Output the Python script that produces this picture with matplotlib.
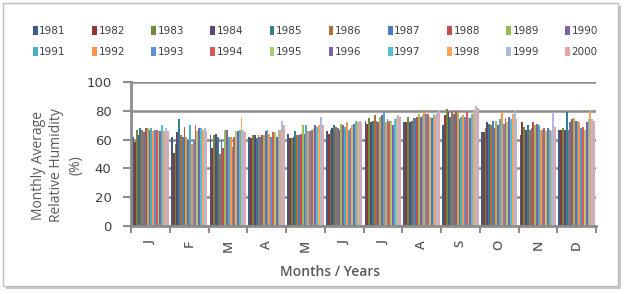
import numpy as np
import matplotlib
matplotlib.use("Agg")
from matplotlib import pyplot as plt
from matplotlib.patches import Rectangle

# ---- data ----
months = ["J", "F", "M", "A", "M", "J", "J", "A", "S", "O", "N", "D"]
years = [str(y) for y in range(1981, 2001)]

# rows = months, cols = years 1981..2000 (relative humidity, %)
rh = [
    [62, 58, 67, 63, 68, 67, 65, 68, 68, 67, 68, 66, 67, 67, 66, 66, 70, 66, 68, 66],  # J
    [62, 51, 57, 65, 74, 63, 62, 69, 62, 60, 70, 57, 60, 70, 66, 68, 68, 67, 68, 66],  # F
    [63, 54, 63, 64, 62, 50, 60, 54, 67, 67, 62, 62, 55, 62, 66, 66, 67, 75, 67, 65],  # M
    [62, 61, 63, 63, 61, 63, 62, 63, 63, 66, 67, 64, 62, 65, 65, 62, 67, 67, 73, 70],  # A
    [64, 61, 61, 62, 66, 63, 63, 64, 70, 64, 70, 66, 66, 67, 68, 70, 69, 70, 76, 70],  # M
    [66, 64, 67, 68, 70, 69, 68, 67, 71, 70, 69, 72, 67, 68, 70, 71, 73, 72, 73, 72],  # J
    [73, 71, 75, 72, 73, 77, 73, 72, 76, 77, 79, 72, 74, 73, 73, 70, 74, 75, 77, 76],  # J
    [72, 72, 76, 72, 73, 75, 75, 76, 78, 76, 77, 80, 78, 78, 76, 75, 78, 77, 79, 80],  # A
    [70, 77, 81, 79, 76, 80, 78, 80, 79, 74, 76, 77, 76, 79, 76, 75, 78, 80, 83, 82],  # S
    [65, 65, 68, 72, 71, 70, 73, 68, 73, 70, 74, 79, 71, 75, 72, 76, 74, 78, 80, 74],  # O
    [63, 72, 69, 67, 70, 67, 68, 72, 70, 71, 70, 67, 67, 68, 66, 68, 67, 66, 79, 69],  # N
    [67, 67, 68, 67, 79, 67, 72, 74, 75, 73, 73, 72, 68, 69, 67, 72, 74, 80, 74, 73],  # D
]

colors = ["#385D8A", "#8C3836", "#71893F", "#5C4776", "#357D91", "#B66D31",
          "#4A7DC0", "#C0504D", "#9BBB59", "#8064A2", "#4BACC6", "#F79646",
          "#5A8FD2", "#D45A58", "#A8CC6E", "#7E62B0", "#4EC2D4", "#F9A457",
          "#A9BBDE", "#E3A6A4"]

grey = "#8C8C8C"
txt = "#595959"

fig = plt.figure(figsize=(6.27, 2.94), dpi=100)
ax = fig.add_axes([131 / 627, 1 - 226 / 294, (596 - 131) / 627, (226 - 82) / 294])

data = np.array(rh)
n_years = data.shape[1]
x = np.arange(len(months))
group_w = 0.94
bw = group_w / n_years
for j in range(n_years):
    ax.bar(x - group_w / 2 + bw * (j + 0.5), data[:, j], width=bw,
           color=colors[j], label=years[j], zorder=2, linewidth=0)

ax.set_xlim(-0.5, len(months) - 0.5)
ax.set_ylim(0, 100)
ax.set_yticks(range(0, 101, 20))
ax.set_xticks(x)
ax.set_xticklabels(months, rotation=90, fontsize=9.5, color=txt, fontfamily="Open Sans",
                   fontweight="semibold")
ax.set_xticks(np.arange(-0.5, len(months)), minor=True)
ax.tick_params(axis="x", which="major", length=0, pad=10)
ax.tick_params(axis="x", which="minor", length=5, width=1.5, color=grey, direction="out")
ax.tick_params(axis="y", length=6, width=1.5, color=grey, direction="out",
               labelsize=9.5, labelcolor="#404040", pad=8)

ax.yaxis.grid(True, color=grey, linewidth=1.8, zorder=0)
ax.set_axisbelow(True)
for s in ("top", "right"):
    ax.spines[s].set_visible(False)
for s in ("left", "bottom"):
    ax.spines[s].set_color(grey)
    ax.spines[s].set_linewidth(2)

fig.text(57 / 627, 1 - 165 / 294, "Monthly Average\nRelative Humidity\n(%)",
         rotation=90, ha="center", va="center", multialignment="center",
         fontsize=10, color=txt, fontfamily="Open Sans", linespacing=1.35)
fig.text(330 / 627, 1 - 272 / 294, "Months / Years", ha="center", va="center",
         fontsize=10, color=txt, fontfamily="Open Sans", fontweight="semibold")

# legend: 2 rows x 10 columns, filled row by row
handles, labels = ax.get_legend_handles_labels()
order = [i + 10 * r for i in range(10) for r in range(2)]
fig.legend([handles[i] for i in order], [labels[i] for i in order], ncol=10,
           loc="upper left", bbox_to_anchor=(33 / 627, 1 - 29 / 294, 565 / 627, 0.01),
           mode="expand", frameon=False, fontsize=7.5, handlelength=0.45,
           handleheight=1.0, handletextpad=0.15, borderaxespad=0, borderpad=0,
           labelspacing=1.0, labelcolor="#404040")

# outer frame with a soft shadow
fig.patches.append(Rectangle((6 / 627, 1 - 289 / 294), 615 / 627, 283 / 294,
                             transform=fig.transFigure, facecolor="#C8C8C8",
                             edgecolor="none", zorder=-2))
fig.patches.append(Rectangle((3 / 627, 1 - 286 / 294), 615 / 627, 283 / 294,
                             transform=fig.transFigure, facecolor="white",
                             edgecolor="#BDBDBD", linewidth=1, zorder=-1))

fig.savefig("out.png", dpi=100)
